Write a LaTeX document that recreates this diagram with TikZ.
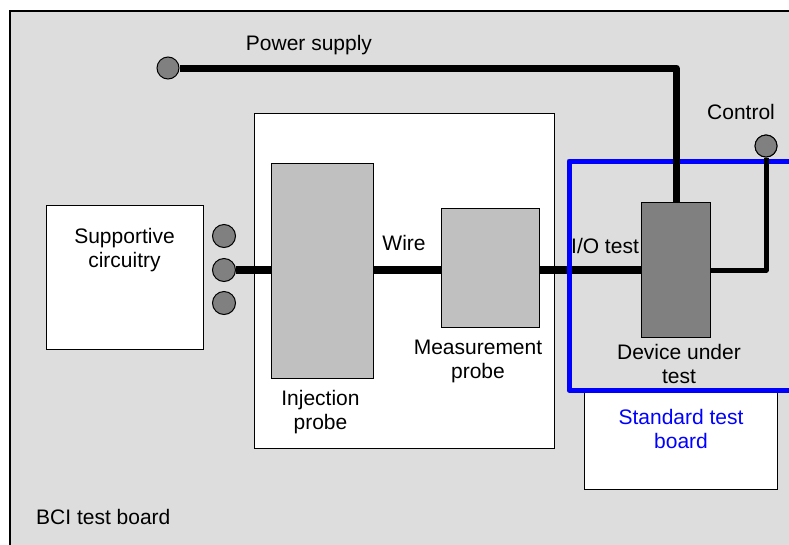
\documentclass[tikz,border=0pt]{standalone}
\usepackage{fontspec}
\setmainfont{Liberation Sans}
\definecolor{boardgray}{HTML}{DDDDDD}
\definecolor{probegray}{HTML}{C0C0C0}
\definecolor{darkgray}{HTML}{808080}
\definecolor{pureblue}{HTML}{0000FF}
\begin{document}
\begin{tikzpicture}[x=1pt,y=-1pt,
  txt/.style={inner sep=0pt,align=center,font=\fontsize{21}{24}\selectfont},
  box/.style={draw=black,line width=1.3pt,inner sep=0pt,anchor=north west},
  pin/.style={circle,draw=black,line width=1pt,fill=darkgray,minimum size=23pt,inner sep=0pt},
  wire/.style={line width=8pt,black},
  thinwire/.style={line width=5pt,black,line join=round},
  pwrwire/.style={line width=7pt,black,line join=round}]
\useasboundingbox (0,0) rectangle (789,544);
\begin{scope}
\clip (0,0) rectangle (789,544);
% BCI test board background
\draw[fill=boardgray,line width=1.2pt] (10,11) rectangle (820,580);
% box holding the two probes
\node[box,fill=white,minimum width=300pt,minimum height=335pt] (probebox) at (254,113) {};
% supportive circuitry
\node[box,fill=white,minimum width=157pt,minimum height=144pt] (sup) at (46,205) {};
\node[txt] (suptext) at (124.5,250) {Supportive\\circuitry};
% connector pins
\node[pin] (pin1) at (224,236) {};
\node[pin] (pin2) at (224,270) {};
\node[pin] (pin3) at (224,303) {};
% device under test
\node[box,fill=darkgray,minimum width=69pt,minimum height=135pt] (dut) at (641,202) {};
% wire from the pins to the device
\draw[wire] (pin2.east) -- (pin2.east -| dut.west);
% probes clamped on the wire
\node[box,fill=probegray,minimum width=102pt,minimum height=215pt] (inj) at (271,163) {};
\node[box,fill=probegray,minimum width=98pt,minimum height=119pt] (meas) at (441,208) {};
% standard test board
\node[box,fill=white,minimum width=193pt,minimum height=97pt] (stb) at (584,392) {};
\draw[pureblue,line width=5pt,line join=round] (830,390) -- (569,390) -- (569,161) -- (830,161);
% power supply and control lines
\node[pin,minimum size=22pt] (pwr) at (168,68) {};
\node[pin,minimum size=22pt] (ctrl) at (766,146) {};
\draw[pwrwire] (pwr.east) -- (pwr.east -| dut.north) -- (dut.north);
\draw[thinwire] (ctrl.south) -- (ctrl.south |- dut.east) -- (dut.east);
\node[pin,minimum size=22pt] at (ctrl) {};
% labels
\node[txt] (pwrlabel) at (309,45) {Power supply};
\node[txt] (ctrllabel) at (741,112) {Control};
\node[txt] (wirelabel) at (404,243) {Wire};
\node[txt] (iolabel) at (605,246) {I/O test};
\node[txt] (injlabel) at (320.5,412.5) {Injection\\probe};
\node[txt] (measlabel) at (478,361.5) {Measurement\\probe};
\node[txt] (dutlabel) at (679,364) {Device under\\test};
\node[txt,text=pureblue] (stblabel) at (681,429) {Standard test\\board};
\node[txt,anchor=west] (bcilabel) at (36,517) {BCI test board};
\end{scope}
\end{tikzpicture}
\end{document}
